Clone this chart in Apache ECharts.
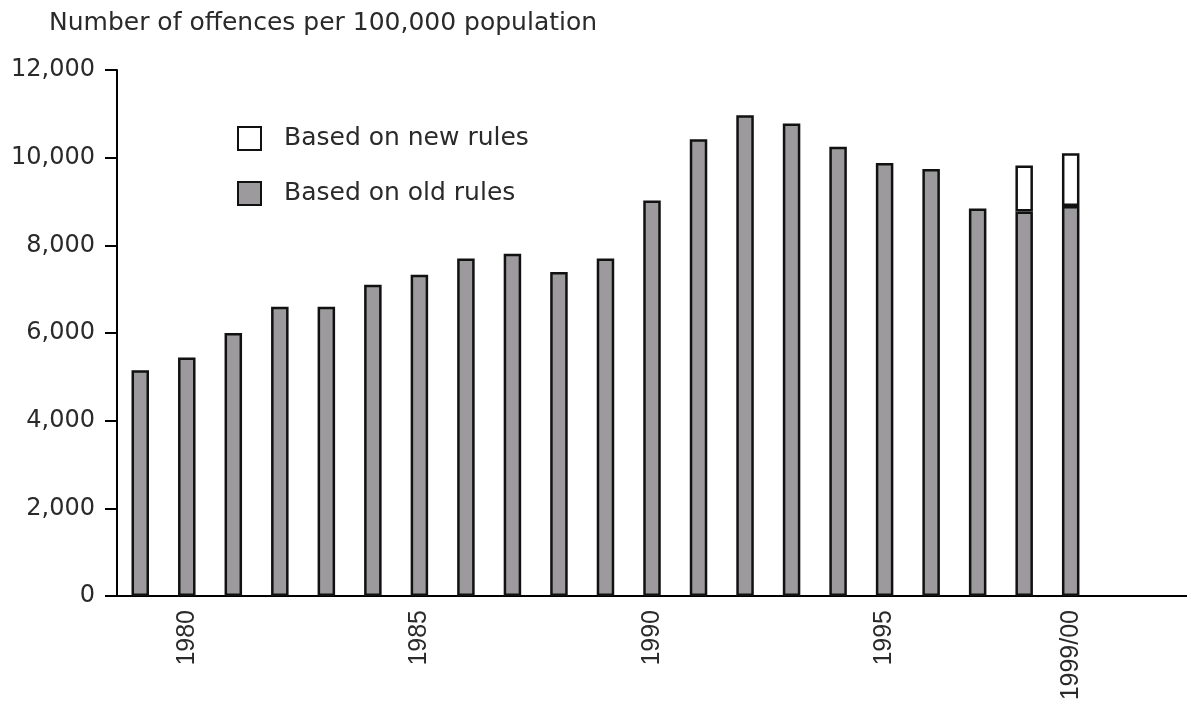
<!DOCTYPE html>
<html>
<head>
<meta charset="utf-8">
<script src="https://cdn.jsdelivr.net/npm/echarts@6/dist/echarts.min.js"></script>
<style>html,body{margin:0;padding:0;background:#fff}#c{width:1187px;height:713px}</style>
</head>
<body>
<div id="c"></div>
<script>
const years = ['1979','1980','1981','1982','1983','1984','1985','1986','1987','1988','1989','1990','1991','1992','1993','1994','1995','1996','1997','1998/99','1999/00'];
const oldRules = [5150,5440,6000,6600,6600,7100,7330,7700,7810,7390,7700,9020,10420,10970,10780,10250,9880,9740,8840,8770,8900];
const newRules = [null,null,null,null,null,null,null,null,null,null,null,null,null,null,null,null,null,null,null,9820,10100];
const shownLabels = ['1980','1985','1990','1995','1999/00'];
const yTicks = [0,2000,4000,6000,8000,10000,12000];

const newIncrement = newRules.map((v,i) => v == null ? null : v - oldRules[i]);
const axisCats = years.concat(['','']);

const chart = echarts.init(document.getElementById('c'), null, {renderer:'canvas'});
chart.setOption({
  animation:false,
  backgroundColor:'#fff',
  title:{
    text:'Number of offences per 100,000 population',
    left:44, top:6,
    textStyle:{fontFamily:'DejaVu Sans', fontSize:25, fontWeight:'normal', color:'#2a2a2a'}
  },
  legend:{
    orient:'vertical', left:232, top:121,
    itemWidth:23, itemHeight:23, itemGap:30,
    icon:'rect',
    data:['Based on new rules','Based on old rules'],
    textStyle:{fontFamily:'DejaVu Sans', fontSize:25, color:'#2a2a2a', padding:[0,0,0,18]}
  },
  grid:{left:117, right:-6, top:70, bottom:117, containLabel:false},
  xAxis:{
    type:'category', data:axisCats, boundaryGap:true,
    axisLine:{lineStyle:{color:'#000', width:2}},
    axisTick:{show:false},
    axisLabel:{
      rotate:90, margin:14, color:'#2a2a2a',
      fontFamily:'Liberation Sans', fontSize:25,
      interval:(i,v)=>shownLabels.indexOf(v)>=0
    }
  },
  yAxis:{
    type:'value', min:yTicks[0], max:yTicks[yTicks.length-1], interval:2000,
    axisLine:{show:true, lineStyle:{color:'#000', width:2}},
    axisTick:{show:true, length:12, lineStyle:{color:'#000', width:2}},
    splitLine:{show:false},
    axisLabel:{
      margin:22, color:'#2a2a2a', fontFamily:'DejaVu Sans', fontSize:24,
      formatter:v=>v.toLocaleString('en-US')
    }
  },
  series:[
    {
      name:'Based on old rules', type:'bar', stack:'t', barWidth:17.5,
      data:oldRules,
      itemStyle:{color:'#9c9a9d', borderColor:'#111', borderWidth:2.5}
    },
    {
      name:'Based on new rules', type:'bar', stack:'t', barWidth:17.5,
      data:newIncrement,
      itemStyle:{color:'#fff', borderColor:'#111', borderWidth:2.5}
    }
  ]
});
</script>
</body>
</html>
